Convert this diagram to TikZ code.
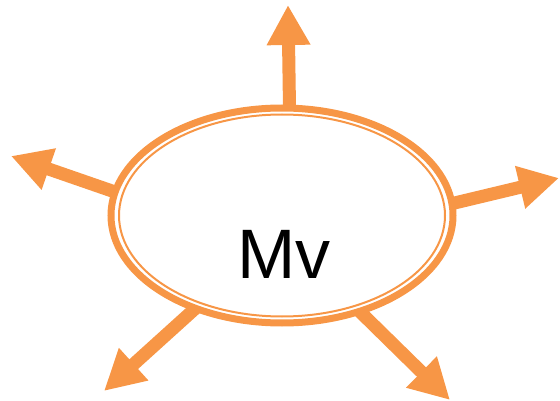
\documentclass[tikz,border=0pt]{standalone}
\usepackage{fontspec}
\setmainfont{Liberation Sans}
\usetikzlibrary{arrows.meta, shapes.geometric}
\definecolor{mvorange}{HTML}{F79646}
\tikzset{%
  ring/.style={draw=mvorange, ellipse, inner sep=0mm, outer sep=0mm},
  ray/.style={draw=mvorange, line width=13pt, -{Triangle[length=40pt, width=41pt]}},
  mv text/.style={font=\fontsize{70}{70}\selectfont, inner sep=0mm}
}

\begin{document}
\begin{tikzpicture}[x=1pt, y=-1pt]
  \useasboundingbox (0,0) rectangle (560,401);
  \node (outer) [ring, line width=7pt, minimum width=342pt, minimum height=215pt] at (282,215.5) {};
  \node (inner) [ring, line width=2pt, minimum width=326pt, minimum height=202pt] at (outer.center) {};
  \node (mv) [mv text, anchor=base] at (284,278) {Mv};
  \coordinate (tip n) at (288,5);
  \coordinate (tip w) at (11,156);
  \coordinate (tip e) at (559,178);
  \coordinate (tip sw) at (104,391);
  \coordinate (tip se) at (450,400);
  \draw[ray] (outer.86.8) -- (tip n);
  \draw[ray] (outer.172.5) -- (tip w);
  \draw[ray] (outer.4.1) -- (tip e);
  \draw[ray] (outer.227.6) -- (tip sw);
  \draw[ray] (outer.309.7) -- (tip se);
\end{tikzpicture}
\end{document}
